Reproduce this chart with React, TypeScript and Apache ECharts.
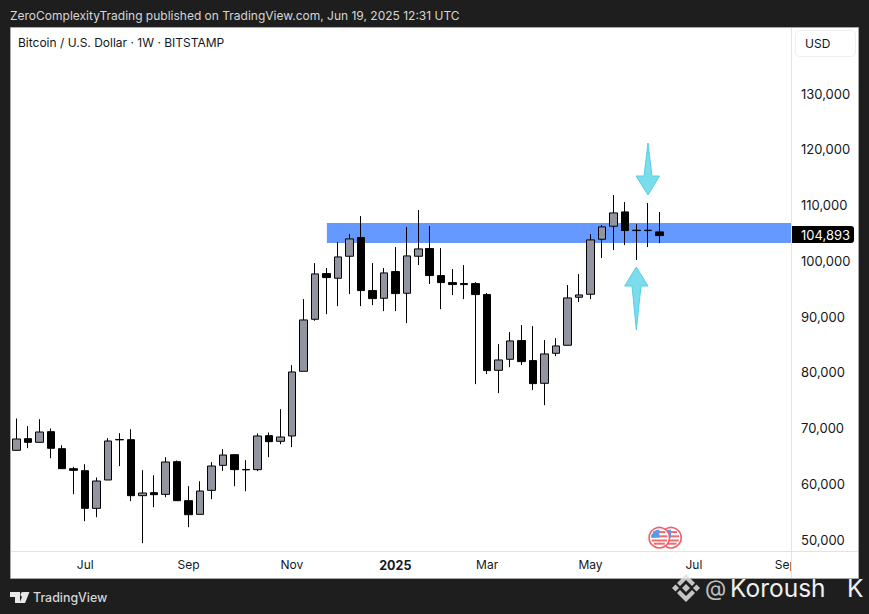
import React, { useEffect, useRef } from "react";
import * as echarts from "echarts";

const FONT = "Inter, 'Noto Sans', sans-serif";

const weekLabels: string[] = Array.from({ length: 68 }, () => "");
const monthMarks: [number, string][] = [
  [6, "Jul"], [15, "Sep"], [24, "Nov"], [33, "2025"], [41, "Mar"], [50, "May"], [59, "Jul"], [67, "Sep"],
];
monthMarks.forEach(([i, s]) => { weekLabels[i] = s; });

const opens = [
  66024, 68116, 67459, 69372, 66322, 62735, 62376, 55620, 60703, 67970, 67937, 57892, 58430, 58132, 63990, 56995,
  54544, 58849, 63333, 65246, 62590, 62556, 68654, 67638, 68595, 80194, 89521, 97712, 96876, 100822, 104169, 94663,
  93288, 98071, 94185, 100822, 102196, 97353, 96098, 95918, 95918, 93945, 80374, 82347, 85694, 82107, 78042, 83423,
  84858, 93468, 94006, 103871, 106203, 108773, 105490, 105490, 105186,
];
const closes = [
  68056, 67459, 69312, 66383, 62735, 62437, 55620, 60523, 67697, 67900, 57892, 58370, 58072, 63931, 56996, 54484,
  58729, 63213, 65186, 62556, 62520, 68594, 67578, 68415, 80074, 89401, 97652, 96995, 100701, 103930, 94663, 93228,
  97832, 94125, 100881, 102136, 97354, 96098, 95740, 95740, 93946, 80314, 82226, 85634, 81928, 77982, 83303, 84738,
  93347, 93886, 103751, 106083, 108594, 105426, 105420, 105420, 104529,
];
const lows = [
  66024, 66412, 67459, 64619, 62735, 58161, 53318, 54036, 60703, 63184, 56906, 49372, 55829, 57623, 56996, 52242,
  54544, 57264, 62347, 59596, 58699, 62287, 64798, 67130, 66592, 80194, 89252, 90448, 91883, 94035, 91883, 92062,
  90986, 90986, 88833, 99237, 95829, 91345, 93856, 93138, 77892, 79686, 76278, 80941, 81300, 76816, 74125, 82914,
  84858, 92600, 93138, 100493, 101928, 102824, 100134, 102466, 103183,
];
const highs = [
  71734, 70358, 71614, 69940, 66950, 63064, 63542, 61151, 68206, 69103, 69820, 62466, 61569, 64798, 64200, 59596,
  60493, 63901, 66233, 65246, 64260, 69043, 69222, 73408, 81300, 93138, 99596, 98699, 103362, 104797, 108026, 99596,
  98699, 102466, 106053, 109102, 106232, 102286, 98519, 99237, 96188, 94215, 85067, 87219, 88475, 88295, 85784, 86143,
  95650, 97623, 104798, 106412, 111793, 110537, 106591, 110358, 108744,
];
const resistanceBand = [[27, 106770, 103183]];
const lastPrice = [[56, 104893]];

const headerText = "ZeroComplexityTrading published on TradingView.com, Jun 19, 2025 12:31 UTC";
const titleText = "Bitcoin / U.S. Dollar · 1W · BITSTAMP";

function flag(cx: number, cy: number, z: number) {
  const r = 8.2;
  const stripes = [-5.6, -1.4, 2.8, 6].map((dy) => ({
    type: "rect",
    z,
    silent: true,
    shape: { x: cx - Math.sqrt(r * r - dy * dy), y: cy + dy - 1, width: 2 * Math.sqrt(r * r - dy * dy), height: 2 },
    style: { fill: "#ef6a72" },
  }));
  return [
    { type: "circle", z, silent: true, shape: { cx, cy, r: 10.2 }, style: { fill: "#fff", stroke: "#ef5f69", lineWidth: 1.6 } },
    ...stripes,
    {
      type: "sector", z, silent: true,
      shape: { cx, cy, r0: 0, r, startAngle: Math.PI, endAngle: Math.PI * 1.5 },
      style: { fill: "#5b9be8" },
    },
  ];
}

export default function App() {
  const ref = useRef<HTMLDivElement>(null);
  useEffect(() => {
    document.body.style.margin = "0";
    const chart = echarts.init(ref.current!, undefined, { renderer: "svg" });
    const arrowStyle = { fill: "#7bdcec", stroke: "#54d0e6", lineWidth: 1 };
    const wm = "rgba(226,226,226,0.85)";
    chart.setOption({
      animation: false,
      backgroundColor: "#1e1e1e",
      grid: { left: 10.56, right: 77.5, top: 93.5, bottom: 74.3, containLabel: false },
      xAxis: {
        type: "category",
        data: weekLabels,
        boundaryGap: true,
        axisLine: { show: false },
        axisTick: { show: false },
        splitLine: { show: false },
        axisLabel: {
          interval: (_: number, v: string) => v !== "",
          margin: 19,
          color: "#131722",
          fontFamily: FONT,
          fontSize: 12,
          hideOverlap: false,
          formatter: (v: string) => (v === "2025" ? `{b|${v}}` : v),
          rich: { b: { fontWeight: 700, fontSize: 12.5, color: "#131722", fontFamily: FONT } },
        },
      },
      yAxis: {
        type: "value",
        position: "right",
        min: 50000,
        max: 130000,
        interval: 10000,
        axisLine: { show: false },
        axisTick: { show: false },
        splitLine: { show: false },
        axisLabel: {
          margin: 9.5,
          color: "#131722",
          fontFamily: FONT,
          fontSize: 13,
          formatter: (v: number) => v.toLocaleString("en-US"),
        },
      },
      series: [
        {
          type: "custom",
          z: 1,
          clip: false,
          encode: { x: 0, y: 1 },
          data: resistanceBand,
          silent: true,
          renderItem: (params: any, api: any) => {
            const tl = api.coord([api.value(0), api.value(1)]);
            const br = api.coord([api.value(0), api.value(2)]);
            const right = params.coordSys.x + params.coordSys.width;
            return {
              type: "rect",
              shape: { x: tl[0] + 0.5, y: tl[1], width: right - tl[0] - 0.5, height: br[1] - tl[1] },
              style: { fill: "#6699ff" },
            };
          },
        },
        {
          type: "candlestick",
          z: 3,
          clip: false,
          barWidth: 8,
          data: opens.map((o, i) => [o, closes[i], lows[i], highs[i]]),
          itemStyle: {
            color: "#9295a0",
            color0: "#000000",
            borderColor: "#000000",
            borderColor0: "#000000",
            borderWidth: 1,
          },
          silent: true,
        },
        {
          type: "custom",
          z: 6,
          clip: false,
          encode: { x: 0, y: 1 },
          data: lastPrice,
          silent: true,
          renderItem: (params: any, api: any) => {
            const p = api.coord([api.value(0), api.value(1)]);
            const right = params.coordSys.x + params.coordSys.width;
            return {
              type: "group",
              children: [
                {
                  type: "rect",
                  shape: { x: right + 0.5, y: p[1] - 7.5, width: 62, height: 17, r: [0, 3, 3, 0] },
                  style: { fill: "#000" },
                },
                {
                  type: "text",
                  style: {
                    x: right + 9.5, y: p[1] + 1,
                    text: Number(api.value(1)).toLocaleString("en-US"),
                    fill: "#fff", font: `13px ${FONT}`, textVerticalAlign: "middle",
                  },
                },
              ],
            };
          },
        },
      ],
      graphic: {
        elements: [
          { type: "rect", z: -10, silent: true, shape: { x: 10.5, y: 27.5, width: 848, height: 551 }, style: { fill: "#fff", stroke: "#a8a8a8", lineWidth: 1 } },
          { type: "rect", z: 50, silent: true, shape: { x: 792, y: 552, width: 66, height: 26 }, style: { fill: "#fff" } },
          { type: "line", z: 51, silent: true, shape: { x1: 791.5, y1: 28, x2: 791.5, y2: 578 }, style: { stroke: "#e0e3eb", lineWidth: 1 } },
          { type: "line", z: 51, silent: true, shape: { x1: 11, y1: 551.5, x2: 858, y2: 551.5 }, style: { stroke: "#e0e3eb", lineWidth: 1 } },
          { type: "text", z: 60, silent: true, style: { x: 10, y: 15.5, text: headerText, fill: "#d6d6d6", font: `12px ${FONT}`, textVerticalAlign: "middle" } },
          { type: "text", z: 60, silent: true, style: { x: 18, y: 42.5, text: titleText, fill: "#131722", font: `12px ${FONT}`, textVerticalAlign: "middle" } },
          { type: "rect", z: 60, silent: true, shape: { x: 795.5, y: 30.5, width: 60, height: 26, r: 4 }, style: { fill: "#fff", stroke: "#eceef2", lineWidth: 1 } },
          { type: "text", z: 61, silent: true, style: { x: 805, y: 43.5, text: "USD", fill: "#131722", font: `12px ${FONT}`, textVerticalAlign: "middle" } },
          { type: "polygon", z: 20, silent: true, shape: { points: [[648, 143], [652, 176], [659.5, 176], [648, 195], [636, 176], [644, 176]] }, style: arrowStyle },
          { type: "polygon", z: 20, silent: true, shape: { points: [[636.3, 267], [648, 286], [641, 286], [636.3, 330], [632, 286], [624.7, 286]] }, style: arrowStyle },
          ...flag(671, 537.7, 30),
          ...flag(659.3, 537.7, 31),
          { type: "polygon", z: 60, silent: true, shape: { points: [[10, 592], [20, 592], [20, 603], [15, 603], [15, 597], [10, 597]] }, style: { fill: "#e8e8e8" } },
          { type: "circle", z: 60, silent: true, shape: { cx: 23, cy: 594.5, r: 2.5 }, style: { fill: "#e8e8e8" } },
          { type: "polygon", z: 60, silent: true, shape: { points: [[24, 592], [29.5, 592], [25, 603], [19.5, 603]] }, style: { fill: "#e8e8e8" } },
          { type: "text", z: 60, silent: true, style: { x: 33, y: 597.5, text: "TradingView", fill: "#d6d6d6", font: `500 12.4px ${FONT}`, textVerticalAlign: "middle" } },
          { type: "polygon", z: 70, silent: true, shape: { points: [[686, 574], [695, 583], [692, 586], [686, 580], [680, 586], [677, 583]] }, style: { fill: wm } },
          { type: "polygon", z: 70, silent: true, shape: { points: [[686, 602], [695, 593], [692, 590], [686, 596], [680, 590], [677, 593]] }, style: { fill: wm } },
          { type: "polygon", z: 70, silent: true, shape: { points: [[686, 584], [690, 588], [686, 592], [682, 588]] }, style: { fill: wm } },
          { type: "polygon", z: 70, silent: true, shape: { points: [[675.5, 584.5], [679, 588], [675.5, 591.5], [672, 588]] }, style: { fill: wm } },
          { type: "polygon", z: 70, silent: true, shape: { points: [[696.5, 584.5], [700, 588], [696.5, 591.5], [693, 588]] }, style: { fill: wm } },
          { type: "text", z: 70, silent: true, style: { x: 705, y: 588, text: "@", fill: "rgba(235,235,235,0.8)", font: `22px ${FONT}`, textVerticalAlign: "middle" } },
          { type: "text", z: 70, silent: true, style: { x: 730, y: 588, text: "Koroush", fill: "#f0f0f0", font: `24.5px ${FONT}`, textVerticalAlign: "middle" } },
          { type: "text", z: 70, silent: true, style: { x: 847, y: 588, text: "K", fill: "#f0f0f0", font: `24.5px ${FONT}`, textVerticalAlign: "middle" } },
        ],
      },
    });
    return () => chart.dispose();
  }, []);
  return <div ref={ref} style={{ position: "fixed", left: 0, top: 0, width: 869, height: 614 }} />;
}
